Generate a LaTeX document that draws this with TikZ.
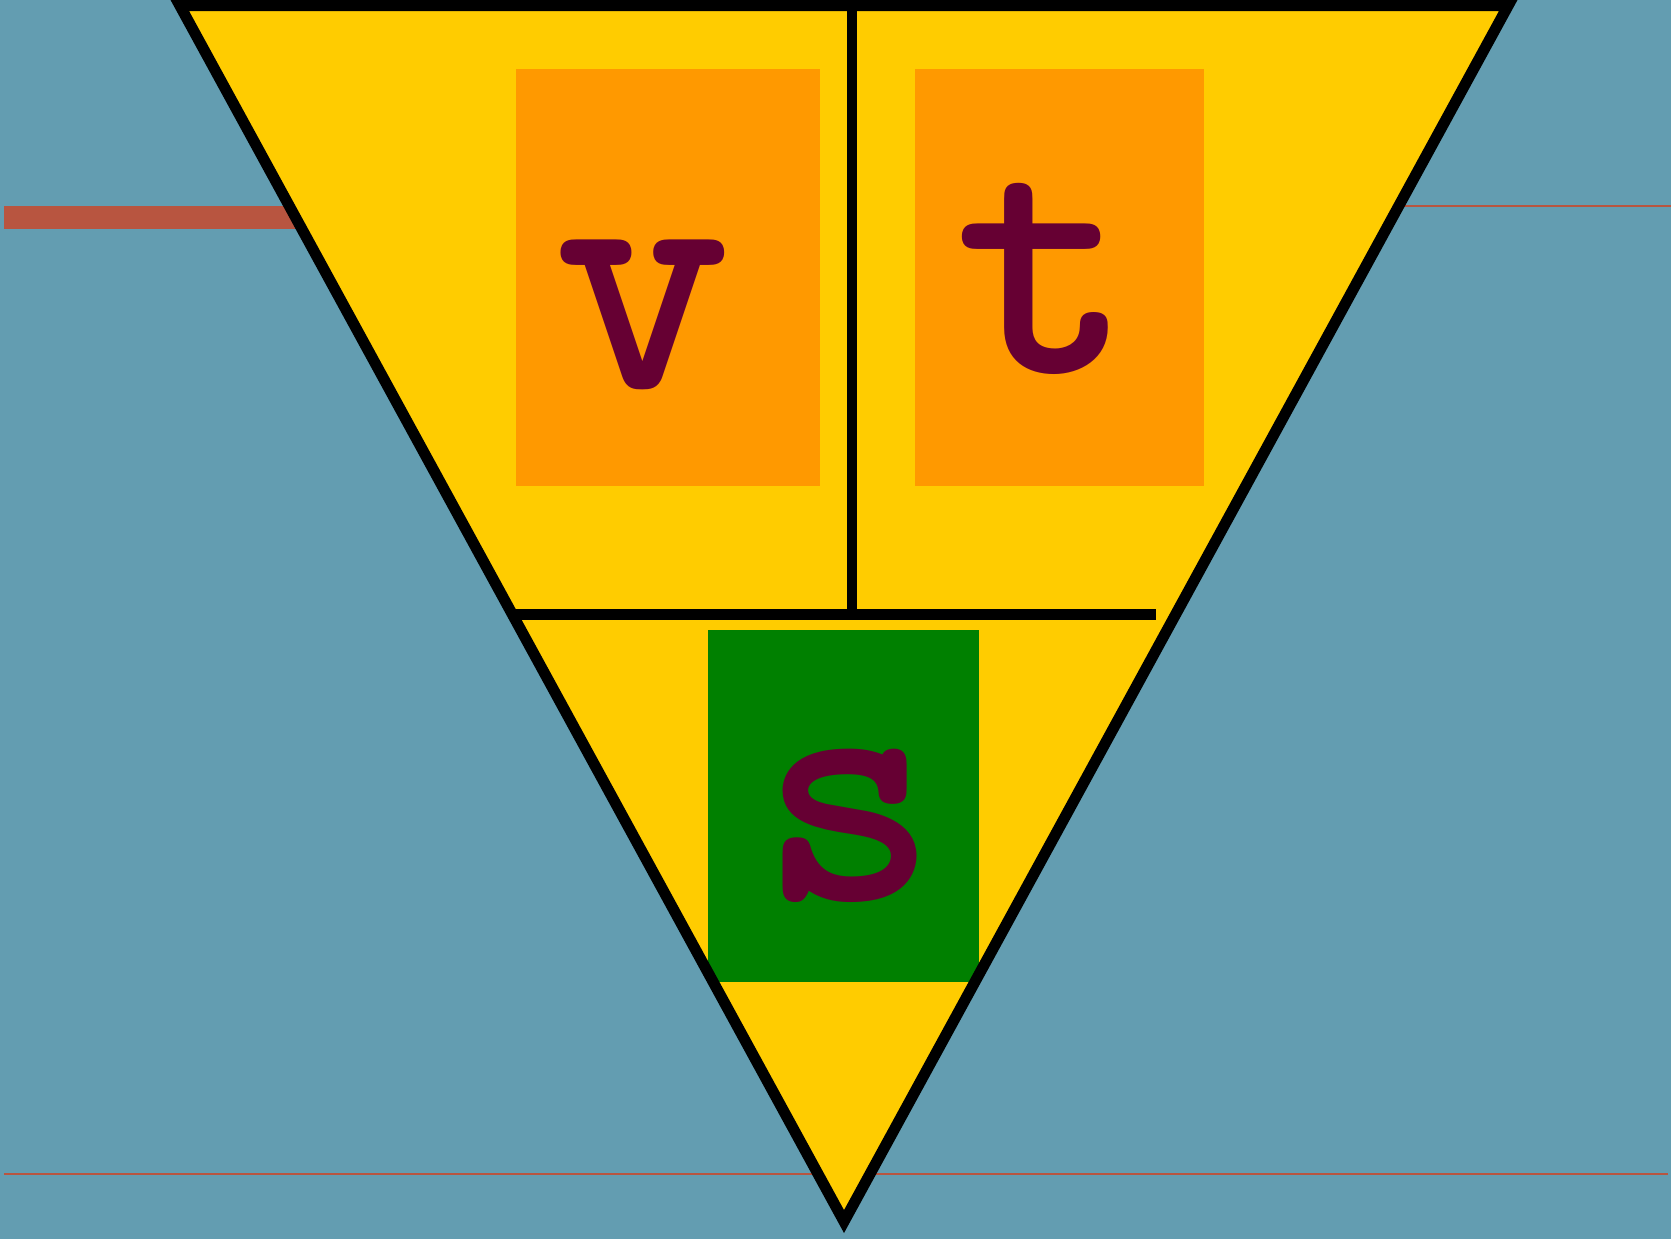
\documentclass[tikz,border=0pt]{standalone}
\usepackage{xcolor}

\definecolor{bgblue}{RGB}{99,157,177}
\definecolor{rust}{RGB}{184,85,64}
\definecolor{lemon}{RGB}{255,204,0}
\definecolor{amber}{RGB}{255,153,0}
\definecolor{leaf}{RGB}{0,128,0}
\definecolor{wine}{RGB}{102,0,51}

\tikzset{
  letter/.style={text=wine, inner sep=0pt, anchor=base,
                 font=\fontsize{97}{100}\selectfont\ttfamily\bfseries},
  rim/.style={draw=black, line width=1.1mm, line join=miter}
}

\begin{document}
\begin{tikzpicture}[x=0.1mm, y=-0.1mm]

\useasboundingbox (0,0) rectangle (1671,1239);
\fill[bgblue] (0,0) rectangle (1671,1239);

% rules behind the funnel
\fill[rust] (4,206) rectangle (320,229);
\draw[rust, line width=0.13mm] (1380,206) -- (1671,206);
\draw[rust, line width=0.2mm] (4,1174) -- (1668,1174);

% the funnel
\coordinate (topL) at (179.8,5.5);
\coordinate (topR) at (1508.2,5.5);
\coordinate (tip)  at (844,1221.5);
\fill[lemon] (topL) -- (topR) -- (tip) -- cycle;

\fill[amber] (515.8,69.3) rectangle (819.5,486);
\fill[amber] (915.4,69.3) rectangle (1204.2,486);
\fill[leaf]  (707.6,629.8) rectangle (979.4,981.5);

\coordinate (midL) at (513,614);
\coordinate (midR) at (1155.5,614);
\coordinate (midC) at (852,614);
\coordinate (topC) at (852,5.5);
\draw[line width=1.0mm] (topC) -- (midC);
\draw[line width=1.1mm] (midL) -- (midR);

\draw[rim] (topL) -- (topR) -- (tip) -- cycle;

\node[letter] (vel) at (642.6,388) {v};
\node[letter] (tim) at (1044,372) {t};
\node[letter] (dist) at (849,900) {s};

\end{tikzpicture}
\end{document}
